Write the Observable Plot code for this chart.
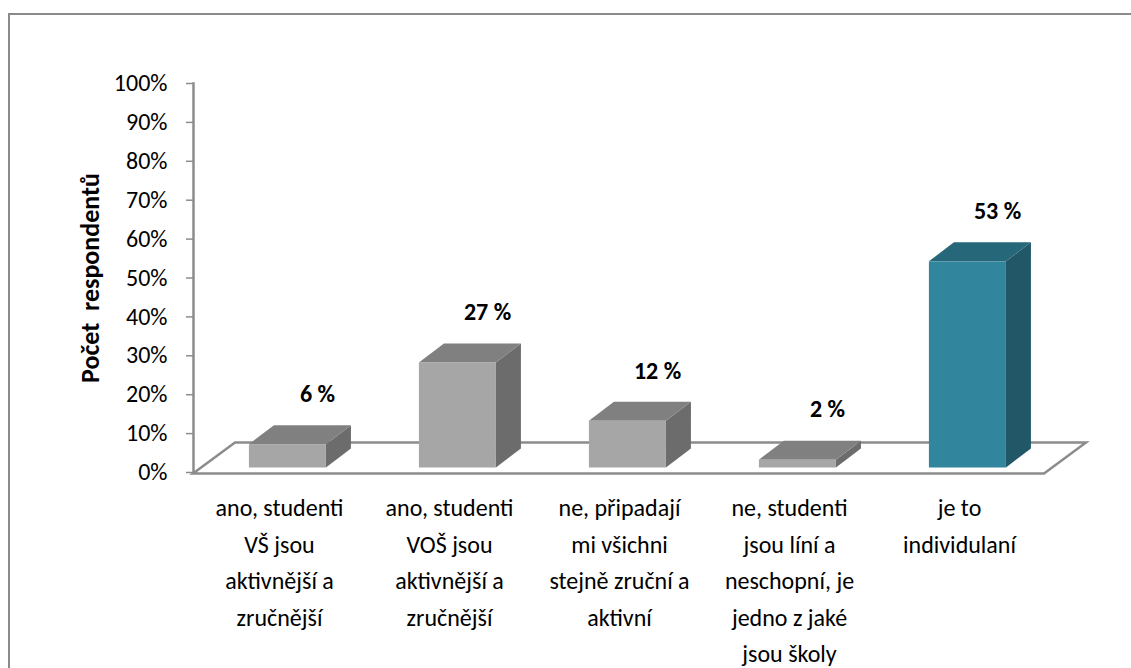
<!DOCTYPE html>
<html>
<head>
<meta charset="utf-8">
<script src="https://cdn.jsdelivr.net/npm/d3@7"></script>
<script src="https://cdn.jsdelivr.net/npm/@observablehq/plot@0.6"></script>
<style>
  html, body { margin: 0; padding: 0; background: #fff; overflow: hidden; }
  #wrap { position: relative; width: 1131px; height: 668px; }
  #chart { position: absolute; left: 0; top: 0; }
  #border { position: absolute; left: 8px; top: 13px; width: 1200px; height: 700px;
            border-left: 2px solid #8a8a8a; border-top: 2px solid #8a8a8a; pointer-events: none; }
</style>
</head>
<body>
<div id="wrap"><div id="chart"></div><div id="border"></div></div>
<script>
// ---- data ----
const categories = [
  "ano, studenti\nVŠ jsou\naktivnější a\nzručnější",
  "ano, studenti\nVOŠ jsou\naktivnější a\nzručnější",
  "ne, připadají\nmi všichni\nstejně zruční a\naktivní",
  "ne, studenti\njsou líní a\nneschopní, je\njedno z jaké\njsou školy",
  "je to\nindividulaní"
];
const values = [0.06, 0.27, 0.12, 0.02, 0.53];
const yTicks = [0, 0.1, 0.2, 0.3, 0.4, 0.5, 0.6, 0.7, 0.8, 0.9, 1.0];
const yLabel = "Počet  respondentů";

// ---- styling ----
const FONT = "Carlito, Calibri, Lato, sans-serif";
const FS = 24;
const grayFaces = {front: "#a6a6a6", top: "#808080", side: "#6c6c6c"};
const tealFaces = {front: "#31859c", top: "#26677a", side: "#215767"};
const DEPTH = [42, -31];      // floor depth (px)
const BAR_DEPTH = [25, -19];  // bar depth (px)
const idx = categories.map((_, i) => i);
const facesFor = i => (i === categories.length - 1 ? tealFaces : grayFaces);

function floorRender(index, scales, values_, dims) {
  const x0 = dims.marginLeft, x1 = dims.width - dims.marginRight;
  const y0 = scales.y(0) + 1.5;
  const g = d3.create("svg:g");
  g.append("polygon")
    .attr("points", [[x0, y0], [x1, y0], [x1 + DEPTH[0], y0 + DEPTH[1]], [x0 + DEPTH[0], y0 + DEPTH[1]]].join(" "))
    .attr("fill", "none").attr("stroke", "#8c8c8c").attr("stroke-width", 2.5)
    .attr("stroke-linejoin", "miter");
  return g.node();
}

function boxRender(index, scales, vals, dims) {
  const x = scales.x;
  const bw = x.bandwidth ? x.bandwidth() : (dims.width - dims.marginLeft - dims.marginRight) / categories.length;
  const g = d3.create("svg:g");
  for (const i of index) {
    const f = facesFor(i);
    const start = x(categories[i]);
    const xl = start + bw * 0.323, xr = start + bw * 0.776;
    const yb = scales.y(0) - 4.5, yt = scales.y(values[i]) - 4.5;
    const [dx, dy] = BAR_DEPTH;
    g.append("polygon").attr("fill", f.side)
      .attr("points", [[xr, yb], [xr + dx, yb + dy], [xr + dx, yt + dy], [xr, yt]].join(" "));
    g.append("polygon").attr("fill", f.top)
      .attr("points", [[xl, yt], [xr, yt], [xr + dx, yt + dy], [xl + dx, yt + dy]].join(" "));
    g.append("rect").attr("fill", f.front)
      .attr("x", xl).attr("y", yt).attr("width", xr - xl).attr("height", yb - yt);
  }
  return g.node();
}

const chart = Plot.plot({
  width: 1131,
  height: 668,
  marginLeft: 193,
  marginRight: 87,
  marginTop: 83,
  marginBottom: 196,
  style: {fontFamily: FONT, fontSize: FS + "px", color: "#000", background: "transparent", overflow: "visible"},
  x: {domain: categories, axis: null, padding: 0},
  y: {domain: [0, 1], axis: null},
  marks: [
    Plot.ruleY([0], {render: floorRender}),
    Plot.barY(idx, {x: i => categories[i], y: i => values[i], render: boxRender}),
    Plot.axisY({ticks: yTicks, tickFormat: d3.format(".0%"), tickSize: 7, tickPadding: 19,
                stroke: "#8c8c8c", strokeWidth: 1.5, fill: "#000", fontSize: FS, label: null}),
    Plot.frame({anchor: "left", stroke: "#8c8c8c", strokeWidth: 2.5}),
    Plot.text([yLabel], {frameAnchor: "left", textAnchor: "middle", rotate: -90, dx: -103,
                         fontWeight: "bold", fontSize: 26, fill: "#000"}),
    Plot.text(idx, {x: i => categories[i], y: i => values[i], text: i => Math.round(values[i] * 100) + " %",
                    dx: 38, dy: -55, fontWeight: "bold", fontSize: FS, fill: "#000"}),
    Plot.text(idx, {x: i => categories[i], y: () => 0, text: i => categories[i], lineAnchor: "top",
                    dy: 18, lineHeight: 36.5 / FS, fontSize: FS, fill: "#000"})
  ]
});
document.getElementById("chart").appendChild(chart);
</script>
</body>
</html>
